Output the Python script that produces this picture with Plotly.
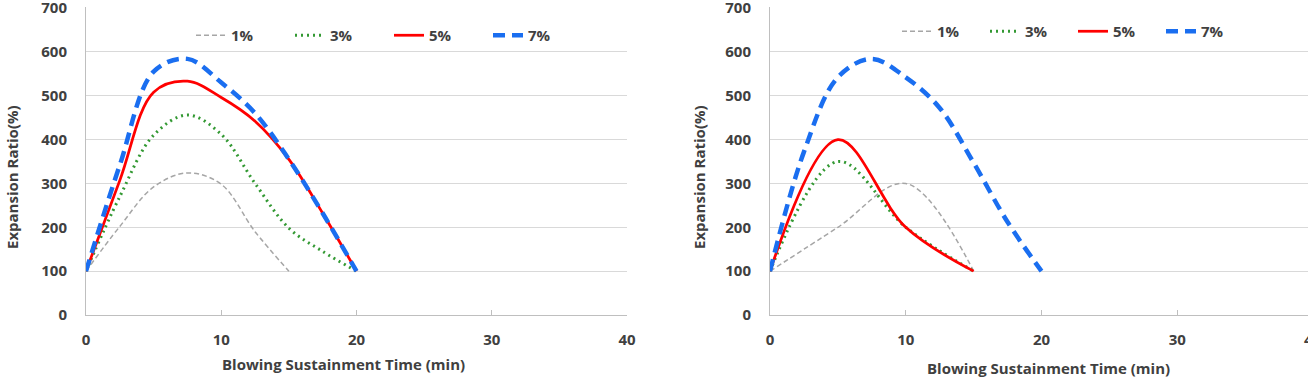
import plotly.graph_objects as go

# ---------------- data ----------------
series_names = ["1%", "3%", "5%", "7%"]

# left panel
left_time_1 = [0, 2.5, 5, 7.5, 10, 12.5, 15]
left_val_1 = [100, 202, 292, 324, 298, 190, 100]
left_time = [0, 2.5, 5, 7.5, 10, 12.5, 15, 17.5, 20]
left_val_3 = [100, 270, 410, 456, 412, 300, 198, 145, 100]
left_val_5 = [100, 307, 508, 533, 496, 442, 355, 232, 100]
left_val_7 = [100, 342, 555, 584, 530, 460, 355, 232, 100]

# right panel
right_time = [0, 5, 10, 15]
right_val_1 = [100, 200, 300, 100]
right_val_3 = [100, 350, 200, 100]
right_val_5 = [100, 400, 200, 100]
right_time_7 = [0, 2.5, 5, 7.5, 10, 12.5, 15, 17.5, 20]
right_val_7 = [100, 372, 542, 584, 542, 472, 347, 212, 100]

x_tick_vals = [0, 10, 20, 30, 40]
y_tick_vals = [0, 100, 200, 300, 400, 500, 600, 700]

x_title = "Blowing Sustainment Time (min)"
y_title = "Expansion Ratio(%)"

# ---------------- style ----------------
W, H = 1308, 384
FONT = "Open Sans"
TXT = "#404040"
FS = 15
styles = [
    dict(color="#a6a6a6", width=1.5, dash="5px,3px"),
    dict(color="#339933", width=3, dash="2px,4px"),
    dict(color="#ff0000", width=2.75, dash="solid"),
    dict(color="#1a6ef0", width=4.5, dash="12px,7px"),
]

fig = go.Figure()

left_sets = [(left_time_1, left_val_1), (left_time, left_val_3),
             (left_time, left_val_5), (left_time, left_val_7)]
right_sets = [(right_time, right_val_1), (right_time, right_val_3),
              (right_time, right_val_5), (right_time_7, right_val_7)]

for i, (xs, ys) in enumerate(left_sets):
    fig.add_trace(go.Scatter(x=xs, y=ys, mode="lines", name=series_names[i],
                             line=dict(shape="spline", smoothing=1, **styles[i]),
                             xaxis="x", yaxis="y", legend="legend"))
for i, (xs, ys) in enumerate(right_sets):
    fig.add_trace(go.Scatter(x=xs, y=ys, mode="lines", name=series_names[i],
                             line=dict(shape="spline", smoothing=1, **styles[i]),
                             xaxis="x2", yaxis="y2", legend="legend2"))

Y_MAX = 702
ydom = [1 - 315 / H, 1 - (315 - 307 * Y_MAX / 700) / H]
tickfont = dict(family=FONT, size=FS, color=TXT, weight="bold")

xcommon = dict(tickvals=x_tick_vals, ticks="inside", ticklen=5, tickcolor="#bfbfbf",
               showline=True, linecolor="#bfbfbf", linewidth=1, showgrid=False,
               zeroline=False, tickfont=tickfont, ticklabelstandoff=11,
               automargin=False)
ycommon = dict(range=[0, Y_MAX], tickvals=y_tick_vals, showgrid=True, gridcolor="#d9d9d9",
               gridwidth=1, showline=True, linecolor="#bfbfbf", zeroline=False,
               ticks="", tickfont=tickfont, ticklabelstandoff=15,
               ticklabeloverflow="allow", automargin=False)

RIGHT_XMAX = 39.63
fig.update_layout(
    width=W, height=H,
    margin=dict(l=0, r=0, t=0, b=0, autoexpand=False),
    paper_bgcolor="white", plot_bgcolor="white",
    xaxis=dict(domain=[86 / W, 627 / W], range=[0, 40], anchor="y", **xcommon),
    yaxis=dict(domain=ydom, anchor="x", **ycommon),
    xaxis2=dict(domain=[770 / W, 1], range=[0, RIGHT_XMAX], anchor="y2", **xcommon),
    yaxis2=dict(domain=ydom, anchor="x2", **ycommon),
    legend=dict(orientation="h", x=191 / W, y=1 - 19 / H, xanchor="left", yanchor="top",
                bgcolor="rgba(0,0,0,0)", entrywidth=54,
                font=dict(family=FONT, size=FS, color=TXT, weight="bold")),
    legend2=dict(orientation="h", x=897 / W, y=1 - 15 / H, xanchor="left", yanchor="top",
                 bgcolor="rgba(0,0,0,0)", entrywidth=43,
                 font=dict(family=FONT, size=FS, color=TXT, weight="bold")),
    showlegend=True,
)

# white legend boxes hiding the gridline behind the legend
fig.add_shape(type="rect", xref="x", yref="y", x0=4.96, x1=38.07, y0=592, y1=672,
              fillcolor="white", line=dict(width=0), layer="below")
fig.add_shape(type="rect", xref="x2", yref="y2", x0=7.5, x1=36.2, y0=592, y1=672,
              fillcolor="white", line=dict(width=0), layer="below")

title_font = dict(family=FONT, size=FS, color=TXT, weight="bold")
fig.add_annotation(text=y_title, x=12 / W, y=1 - 177 / H, xref="paper", yref="paper",
                   xanchor="center", yanchor="middle",
                   textangle=-90, showarrow=False, font=title_font)
fig.add_annotation(text=y_title, x=699 / W, y=1 - 177 / H, xref="paper", yref="paper",
                   xanchor="center", yanchor="middle",
                   textangle=-90, showarrow=False, font=title_font)
fig.add_annotation(text=x_title, x=343 / W, y=1 - 364 / H, xref="paper", yref="paper",
                   xanchor="center", yanchor="middle", showarrow=False, font=title_font)
fig.add_annotation(text=x_title, x=1048 / W, y=1 - 368 / H, xref="paper", yref="paper",
                   xanchor="center", yanchor="middle", showarrow=False, font=title_font)
# the "40" tick label of the right panel falls just beyond the page edge
x0_r = 770 / W
x40_paper = x0_r + (1 - x0_r) * x_tick_vals[-1] / RIGHT_XMAX
fig.add_annotation(text=str(x_tick_vals[-1]), x=x40_paper, xref="paper",
                   y=1 - 339 / H, yref="paper", xanchor="center", yanchor="middle",
                   showarrow=False, font=tickfont)

fig.write_html("out.html")
